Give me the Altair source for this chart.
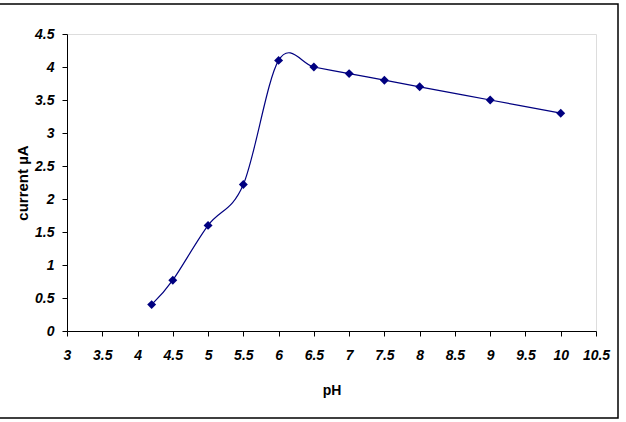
import altair as alt
import pandas as pd

ph = [4.2, 4.5, 5.0, 5.5, 6.0, 6.5, 7.0, 7.5, 8.0, 9.0, 10.0]
current = [0.40, 0.77, 1.60, 2.22, 4.10, 4.00, 3.90, 3.80, 3.70, 3.50, 3.30]
x_ticks = [3.0, 3.5, 4.0, 4.5, 5.0, 5.5, 6.0, 6.5, 7.0, 7.5, 8.0, 8.5, 9.0, 9.5, 10.0, 10.5]
y_ticks = [0.0, 0.5, 1.0, 1.5, 2.0, 2.5, 3.0, 3.5, 4.0, 4.5]

df = pd.DataFrame({"pH": ph, "current": current})

FONT = "Liberation Sans"
NAVY = "#000080"

x_enc = alt.X(
    "pH:Q",
    scale=alt.Scale(domain=[3, 10.5], nice=False, zero=False),
    axis=alt.Axis(
        values=x_ticks, format="~g", grid=False, tickSize=5,
        tickColor="black", domainColor="black", labelFont=FONT, labelFontSize=14,
        labelFontWeight="bold", labelFontStyle="italic", labelColor="black",
        labelPadding=12, title="pH", titleFont=FONT, titleFontSize=14,
        titleFontWeight="bold", titleColor="black", titlePadding=21,
        labelFlush=False, labelOverlap=False,
    ),
)
y_enc = alt.Y(
    "current:Q",
    scale=alt.Scale(domain=[0, 4.5], nice=False),
    axis=alt.Axis(
        values=y_ticks, format="~g", grid=False, tickSize=5,
        tickColor="black", domainColor="black", labelFont=FONT, labelFontSize=14,
        labelFontWeight="bold", labelFontStyle="italic", labelColor="black",
        labelPadding=8, title="current µA", titleFont=FONT, titleFontSize=15,
        titleFontWeight="bold", titleColor="black", titlePadding=4,
        labelFlush=False, labelOverlap=False,
    ),
)

base = alt.Chart(df).encode(x=x_enc, y=y_enc)

line = base.mark_line(
    interpolate="cardinal", tension=0, color=NAVY, strokeWidth=1.2
)

pts = base.mark_point(
    shape="diamond", filled=True, size=80, color=NAVY, opacity=1
)

border = alt.Chart(pd.DataFrame({"a": [0]})).mark_rect(
    filled=False, stroke="black", strokeWidth=1.5
).encode(
    x=alt.value(-68), x2=alt.value(551), y=alt.value(-30), y2=alt.value(384)
)

chart = alt.layer(line, pts, border).properties(
    width=529, height=297,
    autosize=alt.AutoSizeParams(type="none"),
    padding={"left": 67, "top": 34, "right": 30, "bottom": 91},
).configure_view(stroke=None).configure(background="white")

chart.save("out.html", embed_options={"renderer": "svg", "actions": False})
